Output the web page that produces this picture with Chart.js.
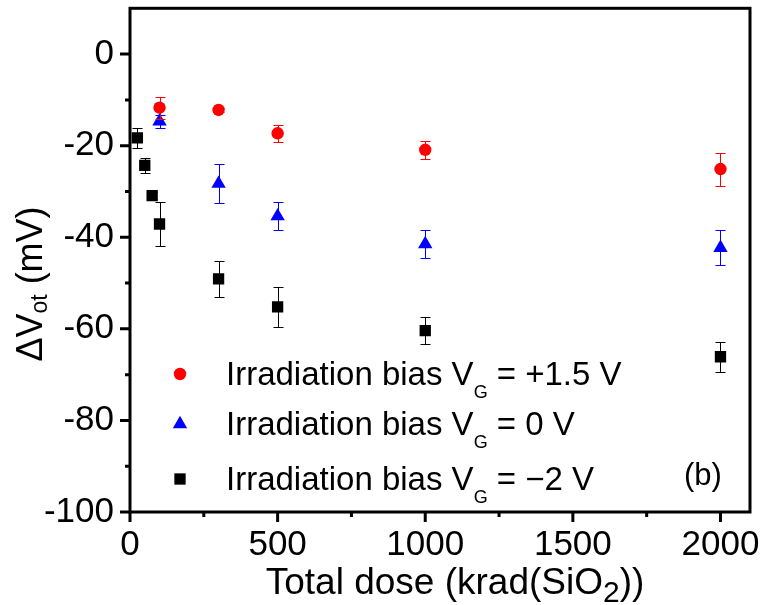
<!DOCTYPE html>
<html lang="en">
<head>
<meta charset="UTF-8">
<title>Delta Vot vs total dose</title>
<script src="https://cdn.jsdelivr.net/npm/chart.js"></script>
<style>
  html, body { margin: 0; padding: 0; background: #fff; }
  #wrap { width: 762px; height: 605px; }
</style>
</head>
<body>
<div id="wrap"><canvas id="chart" width="762" height="605"></canvas></div>
<script>
// dose in krad(SiO2), shift in mV, err = half length of the error bar
const doseRed = [100, 300, 500, 1000, 2000];
const shiftRed = [-11.7, -12.2, -17.3, -20.9, -25.1];
const errRed = [2.4, 0.5, 1.9, 2.0, 3.6];

const doseBlue = [100, 300, 500, 1000, 2000];
const shiftBlue = [-14.7, -28.3, -35.4, -41.5, -42.3];
const errBlue = [1.5, 4.3, 3.0, 3.0, 3.8];

const doseBlack = [25, 50, 75, 100, 300, 500, 1000, 2000];
const shiftBlack = [-18.3, -24.3, -30.9, -37.1, -49.1, -55.2, -60.4, -66.1];
const errBlack = [2.2, 1.7, 0.8, 4.9, 3.9, 4.3, 3.0, 3.3];

const xTicks = [0, 500, 1000, 1500, 2000];
const xMinor = [250, 750, 1250, 1750];
const yTicks = [-100, -80, -60, -40, -20, 0];
const yMinor = [-90, -70, -50, -30, -10];

// legend text pieces: [text, isSubscript]
const legendRows = [
  [['Irradiation bias V', 0], ['G', 1], [' = +1.5 V', 0]],
  [['Irradiation bias V', 0], ['G', 1], [' = 0 V', 0]],
  [['Irradiation bias V', 0], ['G', 1], [' = \u22122 V', 0]]
];

const FONT = '"Liberation Sans", Arial, Helvetica, sans-serif';
const errSets = [errRed, errBlue, errBlack];

function pts(xs, ys) {
  return xs.map((v, i) => ({ x: v, y: ys[i] }));
}

function richWidth(ctx, parts, size, subSize) {
  let w = 0;
  parts.forEach(([t, sub]) => {
    ctx.font = (sub ? subSize : size) + 'px ' + FONT;
    w += ctx.measureText(t).width;
  });
  return w;
}

function drawRich(ctx, parts, x, y, size, subSize, drop, align) {
  let cx = x;
  if (align === 'center') cx = x - richWidth(ctx, parts, size, subSize) / 2;
  ctx.textAlign = 'left';
  ctx.textBaseline = 'alphabetic';
  parts.forEach(([t, sub]) => {
    ctx.font = (sub ? subSize : size) + 'px ' + FONT;
    ctx.fillText(t, cx, sub ? y + drop : y);
    cx += ctx.measureText(t).width;
  });
}

const decor = {
  id: 'decor',
  beforeDatasetDraw(chart, args) {
    const { ctx, scales: { x, y } } = chart;
    const ds = chart.data.datasets[args.index];
    const errs = errSets[args.index];
    ctx.save();
    ctx.strokeStyle = ds.borderColor;
    ctx.lineWidth = 1;
    ds.data.forEach((p, j) => {
      const px = Math.round(x.getPixelForValue(p.x)) + 0.5;
      const top = Math.round(y.getPixelForValue(p.y + errs[j])) + 0.5;
      const bot = Math.round(y.getPixelForValue(p.y - errs[j])) + 0.5;
      ctx.beginPath();
      ctx.moveTo(px, top); ctx.lineTo(px, bot);
      ctx.moveTo(px - 5, top); ctx.lineTo(px + 5, top);
      ctx.moveTo(px - 5, bot); ctx.lineTo(px + 5, bot);
      ctx.stroke();
    });
    ctx.restore();
  },
  afterDraw(chart) {
    const { ctx, chartArea: a, scales: { x, y } } = chart;
    ctx.save();
    ctx.strokeStyle = '#000';
    ctx.lineWidth = 3;
    ctx.strokeRect(a.left, a.top, a.right - a.left, a.bottom - a.top);

    // outward ticks on left and bottom
    ctx.beginPath();
    yTicks.forEach(v => { const p = y.getPixelForValue(v); ctx.moveTo(a.left - 10, p); ctx.lineTo(a.left, p); });
    yMinor.forEach(v => { const p = y.getPixelForValue(v); ctx.moveTo(a.left - 5, p); ctx.lineTo(a.left, p); });
    xTicks.forEach(v => { const p = x.getPixelForValue(v); ctx.moveTo(p, a.bottom); ctx.lineTo(p, a.bottom + 10); });
    xMinor.forEach(v => { const p = x.getPixelForValue(v); ctx.moveTo(p, a.bottom); ctx.lineTo(p, a.bottom + 5); });
    ctx.stroke();

    ctx.fillStyle = '#000';
    // x title
    drawRich(ctx, [['Total dose (krad(SiO', 0], ['2', 1], ['))', 0]],
      (a.left + a.right) / 2 + 15, 594, 37, 30, 8, 'center');

    // y title
    ctx.save();
    ctx.translate(42, 284);
    ctx.rotate(-Math.PI / 2);
    drawRich(ctx, [['\u0394V', 0], ['ot', 1], [' (mV)', 0]], 0, 0, 36, 23, 5, 'center');
    ctx.restore();

    // legend
    const baselines = [385, 435, 490];
    chart.data.datasets.forEach((ds, i) => {
      ctx.fillStyle = ds.backgroundColor;
      ctx.strokeStyle = ds.borderColor;
      Chart.helpers.drawPoint(ctx, { pointStyle: ds.pointStyle, radius: ds.pointRadius, rotation: 0, borderWidth: 0 },
        180, baselines[i] - 11);
      ctx.fillStyle = '#000';
      drawRich(ctx, legendRows[i], 226, baselines[i], 33, 18, 13, 'left');
    });

    ctx.font = '31px ' + FONT;
    ctx.fillStyle = '#000';
    ctx.textAlign = 'left';
    ctx.textBaseline = 'alphabetic';
    ctx.fillText('(b)', 684, 485);
    ctx.restore();
  }
};

const tickFont = { family: FONT, size: 35 };

new Chart(document.getElementById('chart'), {
  type: 'scatter',
  data: {
    datasets: [
      { data: pts(doseRed, shiftRed), pointStyle: 'circle', pointRadius: 6.2,
        backgroundColor: '#ff0000', borderColor: '#ff0000', borderWidth: 0 },
      { data: pts(doseBlue, shiftBlue), pointStyle: 'triangle', pointRadius: 8.3,
        backgroundColor: '#0000ff', borderColor: '#0000ff', borderWidth: 0 },
      { data: pts(doseBlack, shiftBlack), pointStyle: 'rect', pointRadius: 8,
        backgroundColor: '#000000', borderColor: '#000000', borderWidth: 0 }
    ]
  },
  options: {
    responsive: false,
    animation: false,
    devicePixelRatio: 1,
    layout: { padding: { left: 0, top: 7, right: 12, bottom: 0 } },
    plugins: { legend: { display: false }, tooltip: { enabled: false } },
    scales: {
      x: {
        type: 'linear', min: 0, max: 2100,
        afterBuildTicks: s => { s.ticks = xTicks.map(v => ({ value: v })); },
        afterFit: s => { s.height = 93; s.paddingLeft = 0; s.paddingRight = 0; },
        grid: { display: false, drawTicks: false },
        border: { display: false },
        ticks: { font: tickFont, color: '#000', padding: 12, maxRotation: 0, callback: v => String(v) }
      },
      y: {
        type: 'linear', min: -100, max: 10,
        afterBuildTicks: s => { s.ticks = yTicks.map(v => ({ value: v })); },
        afterFit: s => { s.width = 130; s.paddingTop = 0; s.paddingBottom = 0; },
        grid: { display: false, drawTicks: false },
        border: { display: false },
        ticks: { font: tickFont, color: '#000', padding: 16, callback: v => String(v) }
      }
    }
  },
  plugins: [decor]
});
</script>
</body>
</html>
